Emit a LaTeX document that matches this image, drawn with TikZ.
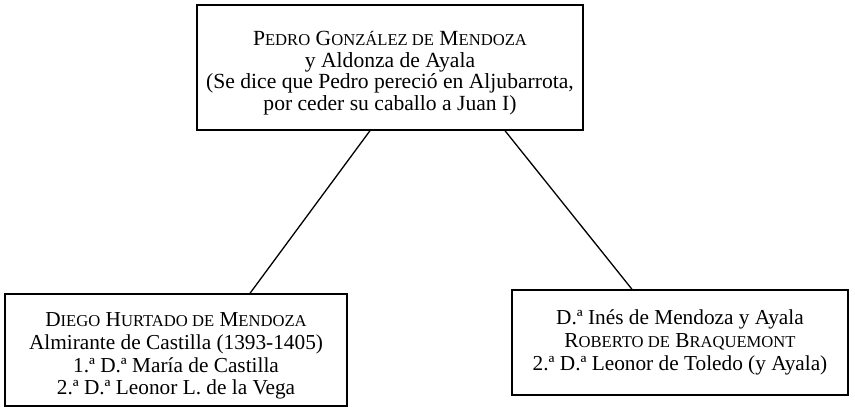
\documentclass[tikz,border=0pt]{standalone}
\usepackage{fontspec}
\setmainfont{Liberation Serif}
\newcommand\smc[1]{{\fontsize{16.6}{16.6}\selectfont #1}}
\tikzset{
  famlybox/.style={draw=black, line width=1.4pt, align=center, inner sep=0pt,
    font=\fontsize{21.3}{22.8}\selectfont},
  topbox/.style={famlybox, font=\fontsize{21.6}{21.5}\selectfont},
  linkline/.style={draw=black, line width=1.3pt}
}
\begin{document}
\begin{tikzpicture}[x=1pt,y=1pt]
\useasboundingbox (0,0) rectangle (855,407);
\fill[white] (0,0) rectangle (855,407);
\node[topbox, minimum width=386pt, minimum height=125pt] (top) at (390,339.5)
  {\rule{0pt}{12pt}\\[-8pt]P\smc{EDRO} G\smc{ONZÁLEZ DE} M\smc{ENDOZA}\\
   y Aldonza de Ayala\\
   (Se dice que Pedro pereció en Aljubarrota,\\
   por ceder su caballo a Juan I)};
\node[famlybox, minimum width=342pt, minimum height=112pt] (left) at (176,57)
  {\rule{0pt}{12pt}\\[-9pt]D\smc{IEGO} H\smc{URTADO DE} M\smc{ENDOZA}\\
   Almirante de Castilla (1393-1405)\\
   1.ª D.ª María de Castilla\\
   2.ª D.ª Leonor L. de la Vega};
\node[famlybox, minimum width=336pt, minimum height=105pt] (right) at (680,64.5)
  {D.ª Inés de Mendoza y Ayala\\
   R\smc{OBERTO DE} B\smc{RAQUEMONT}\\
   2.ª D.ª Leonor de Toledo (y Ayala)};
\draw[linkline] ([xshift=-20pt]top.south) -- ([xshift=74pt]left.north);
\draw[linkline] ([xshift=115pt]top.south) -- ([xshift=-48pt]right.north);
\end{tikzpicture}
\end{document}
